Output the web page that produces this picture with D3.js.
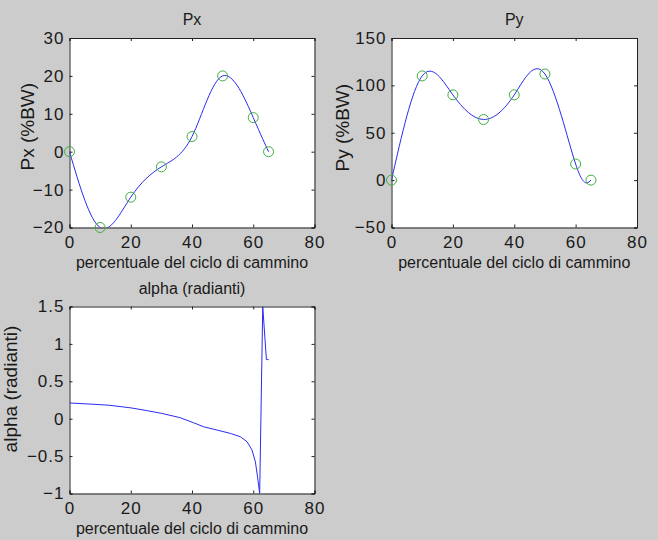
<!DOCTYPE html>
<html>
<head>
<meta charset="utf-8">
<script src="https://cdn.jsdelivr.net/npm/d3@7"></script>
<style>
  body { margin: 0; background: #cccccc; }
  svg { display: block; }
  text { font-family: "Liberation Sans", Arial, Helvetica, sans-serif; fill: #1a1a1a; }
</style>
</head>
<body>
<div id="chart"></div>
<script>
// gait cycle samples (percent)
const cycle = [0, 10, 20, 30, 40, 50, 60, 65];
const px = [0, -20, -12, -4, 4, 20, 9, 0];
const py = [0, 110, 90, 64, 90, 112, 17, 0];

// alpha curve
const alphaX = [0, 7, 13, 20, 25, 30, 36, 40.5, 43.8, 48.2, 52.5, 55.8, 58, 59.6, 60.7, 61.4, 62.1, 63.1, 64.3, 65];
const alphaY = [0.21, 0.195, 0.18, 0.145, 0.11, 0.072, 0.015, -0.054, -0.108, -0.152, -0.196, -0.241, -0.309, -0.42, -0.577, -0.778, -1.0, 1.5, 0.79, 0.79];

const xTicks = [0, 20, 40, 60, 80];
const pxTicks = [-20, -10, 0, 10, 20, 30];
const pyTicks = [-50, 0, 50, 100, 150];
const alphaTicks = [-1, -0.5, 0, 0.5, 1, 1.5];

const width = 658, height = 540;
const xLabel = "percentuale del ciclo di cammino";

const svg = d3.select("#chart").append("svg")
    .attr("width", width)
    .attr("height", height);

svg.append("rect").attr("width", width).attr("height", height).attr("fill", "#cccccc");

const fmt = d => String(d).replace("-", "\u2212");

function panel(o) {
    const x = d3.scaleLinear().domain([0, 80]).range([o.left, o.left + o.w]);
    const y = d3.scaleLinear().domain(o.yDomain).range([o.top + o.h, o.top]);
    const g = svg.append("g");

    g.append("rect")
        .attr("x", o.left).attr("y", o.top)
        .attr("width", o.w).attr("height", o.h)
        .attr("fill", "#fff");

    const clipId = "clip" + o.id;
    g.append("clipPath").attr("id", clipId)
        .append("rect").attr("x", o.left).attr("y", o.top).attr("width", o.w).attr("height", o.h);

    // axes with inward ticks on all four sides
    const tl = 3;
    g.append("g").attr("transform", `translate(0,${o.top + o.h})`)
        .call(d3.axisBottom(x).tickValues(xTicks).tickSize(-tl).tickPadding(8.5).tickFormat(fmt));
    g.append("g").attr("transform", `translate(0,${o.top})`)
        .call(d3.axisTop(x).tickValues(xTicks).tickSize(-tl).tickFormat(""));
    g.append("g").attr("transform", `translate(${o.left},0)`)
        .call(d3.axisLeft(y).tickValues(o.yTicks).tickSize(-tl).tickPadding(5).tickFormat(fmt));
    g.append("g").attr("transform", `translate(${o.left + o.w},0)`)
        .call(d3.axisRight(y).tickValues(o.yTicks).tickSize(-tl).tickFormat(""));

    g.selectAll(".domain").attr("stroke", "#222").attr("stroke-width", 1);
    g.selectAll(".tick line").attr("stroke", "#222");
    g.selectAll(".tick text")
        .style("font-size", "17px")
        .style("letter-spacing", "1px")
        .style("font-family", "'Liberation Sans', Arial, sans-serif")
        .attr("fill", "#1a1a1a");

    const plot = g.append("g").attr("clip-path", `url(#${clipId})`);
    plot.append("path")
        .datum(d3.zip(o.xs, o.ys))
        .attr("fill", "none")
        .attr("stroke", "#2b2bee")
        .attr("stroke-width", 1)
        .attr("d", d3.line().x(d => x(d[0])).y(d => y(d[1])).curve(o.curve));

    if (o.marks) {
        g.selectAll(null)
            .data(d3.zip(o.xs, o.ys))
            .enter().append("circle")
            .attr("cx", d => x(d[0]))
            .attr("cy", d => y(d[1]))
            .attr("r", 5)
            .attr("fill", "none")
            .attr("stroke", "#3fae3f")
            .attr("stroke-width", 1);
    }

    g.append("text")
        .attr("x", o.left + o.w / 2).attr("y", o.top - 13)
        .attr("text-anchor", "middle")
        .style("font-size", "16px")
        .text(o.title);

    g.append("text")
        .attr("x", o.left + o.w / 2).attr("y", o.top + o.h + 40)
        .attr("text-anchor", "middle")
        .style("font-size", "16px")
        .text(xLabel);

    g.append("text")
        .attr("transform", `translate(${o.yLabelX},${o.top + o.h / 2 + o.yLabelShift}) rotate(-90)`)
        .attr("text-anchor", "middle")
        .style("font-size", "19px")
        .text(o.yLabel);
}

panel({ id: 1, left: 69.5, top: 38, w: 245, h: 189.5, yDomain: [-20, 30], yTicks: pxTicks,
        xs: cycle, ys: px, curve: d3.curveNatural, marks: true,
        title: "Px", yLabel: "Px (%BW)", yLabelX: 33.5, yLabelShift: -6 });

panel({ id: 2, left: 391.5, top: 38, w: 245.5, h: 189.5, yDomain: [-50, 150], yTicks: pyTicks,
        xs: cycle, ys: py, curve: d3.curveNatural, marks: true,
        title: "Py", yLabel: "Py (%BW)", yLabelX: 348.5, yLabelShift: -5 });

panel({ id: 3, left: 69.5, top: 306.5, w: 245, h: 187, yDomain: [-1, 1.5], yTicks: alphaTicks,
        xs: alphaX, ys: alphaY, curve: d3.curveLinear, marks: false,
        title: "alpha (radianti)", yLabel: "alpha (radianti)", yLabelX: 16.5, yLabelShift: -11 });
</script>
</body>
</html>
